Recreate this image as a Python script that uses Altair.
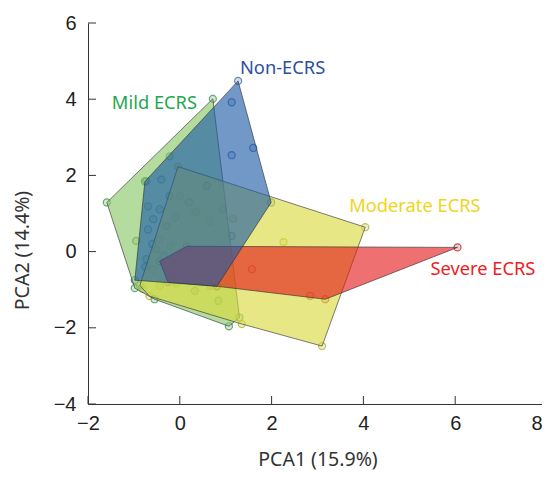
import altair as alt
import pandas as pd

groups = ["Non-ECRS", "Mild ECRS", "Moderate ECRS", "Severe ECRS"]

# convex hull vertices (PCA1, PCA2)
non_hull_x = [1.27, 1.99, 0.81, -0.98, -0.76]
non_hull_y = [4.48, 1.29, -0.91, -0.75, 1.84]
mild_hull_x = [-1.59, 0.72, 1.30, 1.07, -0.55, -0.98]
mild_hull_y = [1.29, 4.01, -1.73, -1.96, -1.25, -0.96]
mod_hull_x = [-0.04, 4.04, 3.10, 1.35, -0.66, -0.87]
mod_hull_y = [2.23, 0.64, -2.48, -1.90, -1.17, -0.89]
sev_hull_x = [-0.44, 0.15, 6.05, 3.17, 0.81, -0.26]
sev_hull_y = [-0.25, 0.14, 0.11, -1.25, -0.91, -0.80]

# interior samples
non_pts_x = [1.13, 1.60, 1.13, -0.40, 0.60, 0.93, 1.13, -0.58, -0.69, -0.29, -0.44, 0.58, -0.60, -0.75, -0.35]
non_pts_y = [3.92, 2.72, 2.53, 1.89, 1.74, 1.11, 0.41, 0.85, 0.58, 0.67, 1.11, 1.72, 0.20, -0.40, -0.10]
mild_pts_x = [-0.22, -0.73, -0.22, -0.69, 0.33, 0.84, -0.44, -0.51, -0.73, 0.66, -0.95, -0.10, 0.20]
mild_pts_y = [2.50, 1.85, 1.46, 1.19, -1.03, -1.29, 0.32, 0.06, -0.20, -0.90, 0.28, 0.90, 1.30]
mod_pts_x = [2.26, 0.00, 0.36, 0.66, 1.16, 0.33, -0.07, -0.44, -0.58, -0.81, -0.20]
mod_pts_y = [0.25, 1.46, 1.06, 0.79, 0.86, 1.02, -0.83, -0.90, -0.46, -0.98, 0.15]
sev_pts_x = [1.57, 2.84]
sev_pts_y = [-0.46, -1.16]

label_x = [1.31, -1.48, 3.69, 5.46]
label_y = [4.80, 3.88, 1.16, -0.49]

fill_colors = ["#1b59a6", "#86c662", "#d8da3a", "#e41818"]
point_colors = ["#2b5a9a", "#2e8b3e", "#a8a820", "#b01010"]
label_colors = ["#2d4f9e", "#1fa84f", "#f2d41c", "#ee1c25"]

x_ticks = [-2, 0, 2, 4, 6, 8]
y_ticks = [-4, -2, 0, 2, 4, 6]

hulls = {
    "Non-ECRS": (non_hull_x, non_hull_y),
    "Mild ECRS": (mild_hull_x, mild_hull_y),
    "Moderate ECRS": (mod_hull_x, mod_hull_y),
    "Severe ECRS": (sev_hull_x, sev_hull_y),
}
pts = {
    "Non-ECRS": (non_pts_x, non_pts_y),
    "Mild ECRS": (mild_pts_x, mild_pts_y),
    "Moderate ECRS": (mod_pts_x, mod_pts_y),
    "Severe ECRS": (sev_pts_x, sev_pts_y),
}

xs = alt.Scale(domain=[-2, 8], nice=False, zero=False)
ys = alt.Scale(domain=[-4, 6], nice=False, zero=False)


def X():
    return alt.X("x:Q", scale=xs, axis=alt.Axis(
        values=x_ticks, title="PCA1 (15.9%)",
        titleY=61, titleBaseline="alphabetic",
        labelPadding=9, labelFlush=False,
        labelAlign={"condition": {"test": "datum.value == 8", "value": "right"}, "value": "center"},
        labelOffset={"condition": {"test": "datum.value == 8", "value": -5}, "value": 0},
    ))


def Y():
    return alt.Y("y:Q", scale=ys, axis=alt.Axis(values=y_ticks, title="PCA2 (14.4%)",
                                                   titleX=-60, titleY=227,
                                                   titleBaseline="alphabetic",
                                                   labelPadding=12, labelFlush=False))


# points
rows = []
for g in groups:
    hx, hy = hulls[g]
    px, py = pts[g]
    for a, b in zip(hx + px, hy + py):
        rows.append({"x": a, "y": b, "group": g})
pts_df = pd.DataFrame(rows)

points = alt.Chart(pts_df).mark_point(shape="circle", filled=True, size=50, fillOpacity=0.2,
                                       strokeWidth=1.2, strokeOpacity=0.7).encode(
    x=X(), y=Y(),
    fill=alt.Fill("group:N", scale=alt.Scale(domain=groups, range=point_colors), legend=None),
    stroke=alt.Stroke("group:N", scale=alt.Scale(domain=groups, range=point_colors), legend=None),
)

layers = [points]
for g in ["Mild ECRS", "Moderate ECRS", "Severe ECRS", "Non-ECRS"]:
    hx, hy = hulls[g]
    hx2 = hx + [hx[0]]
    hy2 = hy + [hy[0]]
    df = pd.DataFrame({"x": hx2, "y": hy2, "i": list(range(len(hx2)))})
    col = fill_colors[groups.index(g)]
    layers.append(
        alt.Chart(df).mark_line(fill=col, fillOpacity=0.62, stroke="#333333",
                                strokeWidth=0.8, strokeOpacity=0.8).encode(
            x=X(), y=Y(), order="i:Q")
    )

lab_df = pd.DataFrame({"x": label_x, "y": label_y, "group": groups})
labels = alt.Chart(lab_df).mark_text(align="left", baseline="middle", font="Noto Sans",
                                     fontSize=18.3).encode(
    x=X(), y=Y(), text="group:N",
    color=alt.Color("group:N", scale=alt.Scale(domain=groups, range=label_colors), legend=None),
)
layers.append(labels)

ytick_df = pd.DataFrame({"y": y_ticks})
xtick_df = pd.DataFrame({"x": x_ticks})
yt = alt.Chart(ytick_df).mark_rule(color="#333333", strokeWidth=1).encode(
    y=Y(), x=alt.value(0), x2=alt.value(8))
xt = alt.Chart(xtick_df).mark_rule(color="#333333", strokeWidth=1).encode(
    x=X(), y=alt.value(381), y2=alt.value(373))
layers += [yt, xt]

chart = alt.layer(*layers).properties(
    width=459, height=381,
    autosize=alt.AutoSizeParams(type="none"),
    padding={"left": 80, "top": 15, "right": -5, "bottom": 66},
).configure_view(stroke=None).configure_axis(
    grid=False, tickSize=0, domainColor="#333333", domainWidth=1,
    labelFont="Liberation Sans", labelFontSize=20, labelColor="#222222",
    titleFont="Noto Sans", titleFontSize=19.5, titleColor="#333333", titleFontWeight="normal",
)

chart.save("out.html", embed_options={"renderer": "svg", "actions": False})
